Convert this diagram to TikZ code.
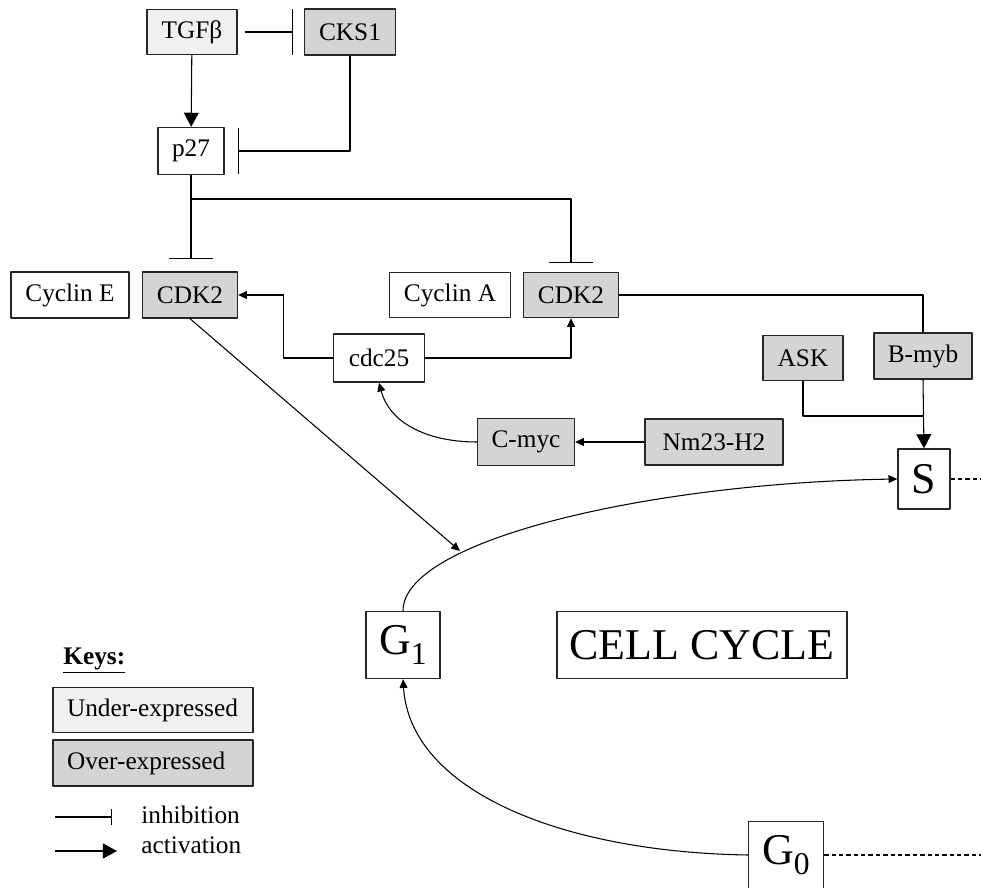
\documentclass[tikz,border=0pt]{standalone}
\usepackage{fontspec}
\setmainfont{Liberation Serif}
\usetikzlibrary{arrows.meta}
\definecolor{underc}{gray}{0.94}
\definecolor{overc}{gray}{0.83}
\newcommand\phsub[1]{\raisebox{-5.5pt}{\fontsize{18}{18}\selectfont #1}}

\begin{document}
\begin{tikzpicture}[x=0.02cm, y=-0.02cm, font=\fontsize{14.4}{17}\selectfont, line join=round, line width=0.6pt,
	box/.style={draw=black!85, line width=0.8pt, inner sep=0pt, minimum height=0.92cm},
	under/.style={box, fill=underc},
	over/.style={box, fill=overc},
	phase/.style={box, font=\fontsize{25}{30}\selectfont, minimum height=1.34cm},
	act/.style={-{Triangle[length=5pt,width=4.5pt]}},
	actbig/.style={-{Triangle[length=8pt,width=8.5pt]}},
	inhib/.style={-{Bar[width=26pt]}}]
	\useasboundingbox (0,0) rectangle (981,888);
	\clip (0,0) rectangle (981,888);
	% boxes
	\node[under, minimum width=1.8cm, minimum height=0.9cm] (tgfb) at (192,32) {TGFβ};
	\node[over, minimum width=1.82cm] (cks1) at (350,32) {CKS1};
	\node[box, minimum width=1.32cm, minimum height=0.94cm] (p27) at (191,151) {p27};
	\node[box, minimum width=2.36cm] (cycE) at (70,295) {Cyclin E};
	\node[over, minimum width=1.9cm] (cdk2a) at (190,295) {CDK2};
	\node[box, minimum width=2.42cm, minimum height=0.9cm] (cycA) at (450,295) {Cyclin A};
	\node[over, minimum width=1.9cm, minimum height=0.9cm] (cdk2b) at (571,295) {CDK2};
	\node[box, minimum width=1.82cm, minimum height=0.96cm] (cdc25) at (379,358) {cdc25};
	\node[over, minimum width=1.94cm, minimum height=0.94cm] (cmyc) at (526,442) {C-myc};
	\node[over, minimum width=2.76cm] (nm23) at (714,442) {Nm23-H2};
	\node[over, minimum width=1.6cm, minimum height=0.9cm] (ask) at (803,358) {ASK};
	\node[over, minimum width=1.96cm] (bmyb) at (923,356) {B-myb};
	\node[phase, minimum width=1.04cm, minimum height=1.2cm] (s) at (924,479) {S};
	\node[phase, minimum width=1.48cm] (g1) at (403,645) {G\phsub{1}};
	\node[phase, minimum width=5.8cm] (cc) at (702,645) {CELL CYCLE};
	\node[phase, minimum width=1.5cm] (g0) at (786,855) {G\phsub{0}};

	% connectors
	\draw[inhib, shorten <=4pt, shorten >=6pt] (tgfb) -- (cks1);
	\draw[actbig] (tgfb) -- (p27);
	\draw[inhib, shorten >=7.4pt] (cks1.south) |- (p27.east);
	\coordinate (split) at (191,199);
	\draw (p27.south) -- (split);
	\draw[inhib, -{Bar[width=25pt]}, shorten >=6.8pt] (split) -- (split |- cdk2a.north);
	\draw[inhib, -{Bar[width=25pt]}, shorten >=5pt] (split) -| (cdk2b.north);
	\draw[act] (cdc25.west) -- ++(-49,0) |- (cdk2a.east);
	\draw[act] (cdc25.east) -| (cdk2b.south);
	\draw[act] (nm23) -- (cmyc);
	\draw[act] (cmyc.west) to[out=180, in=-75] (cdc25.south);
	\draw (cdk2b.east) -| (bmyb.north);
	\coordinate (join) at (923,416);
	\draw (ask.south) |- (join);
	\draw[actbig] (bmyb.south) -- (s.north);
	\draw[dashed, dash pattern=on 2.5pt off 1.7pt] (s.east) -- ++(40,0);
	\coordinate (g1tip) at (460,551);
	\draw[act] (cdk2a.south) -- (g1tip);
	\draw[act] (g1.north) .. controls (403,540) and (650,483) .. (s.west);
	\draw[act] (g0.west) .. controls (560,852) and (410,790) .. (g1.south);
	\draw[dashed, dash pattern=on 2.5pt off 1.7pt] (g0.east) -- ++(170,0);

	% keys
	\node[font=\fontsize{14.4}{17}\bfseries, anchor=west] (keys) at (57,661) {\underline{Keys:}};
	\node[under, text width=3.44cm, inner xsep=0.28cm, align=left, minimum height=0.9cm] (ukey) at (153,710) {Under-expressed};
	\node[over, text width=3.44cm, inner xsep=0.28cm, align=left] (okey) at (153,763) {Over-expressed};
	\coordinate (i0) at (55,817); \coordinate (i1) at (112,817);
	\coordinate (a0) at (55,851); \coordinate (a1) at (117,851);
	\draw[-{Bar[width=9pt]}] (i0) -- (i1);
	\draw[actbig] (a0) -- (a1);
	\node[anchor=west] (inhtxt) at (135,815) {inhibition};
	\node[anchor=west] (acttxt) at (135,845) {activation};
\end{tikzpicture}
\end{document}
